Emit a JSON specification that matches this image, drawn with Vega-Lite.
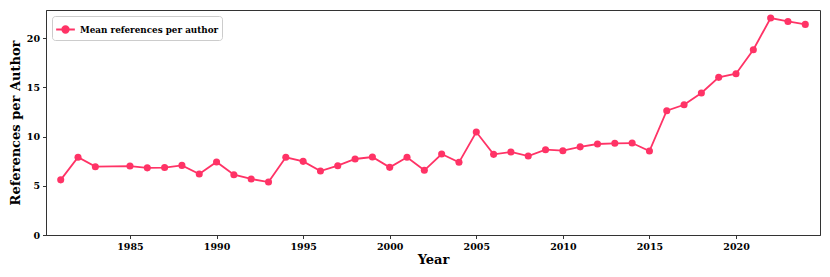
{
  "$schema": "https://vega.github.io/schema/vega-lite/v6.json",
  "width": 774,
  "height": 225,
  "autosize": "none",
  "padding": {"left": 46, "top": 10, "right": 10, "bottom": 42},
  "config": {
    "view": {"stroke": "#333333", "strokeWidth": 1},
    "font": "DejaVu Serif",
    "axis": {
      "labelFont": "DejaVu Serif", "labelFontWeight": "bold", "labelFontSize": 9.5, "labelColor": "#000",
      "titleFont": "DejaVu Serif", "titleFontWeight": "bold", "titleFontSize": 13, "titleColor": "#000",
      "domainColor": "#333333", "tickColor": "#333333", "tickSize": 3.5, "grid": false
    }
  },
  "data": {"values": [
    {"year": 1981, "value": 5.6, "series": "Mean references per author"},
    {"year": 1982, "value": 7.9, "series": "Mean references per author"},
    {"year": 1983, "value": 6.94, "series": "Mean references per author"},
    {"year": 1985, "value": 7.0, "series": "Mean references per author"},
    {"year": 1986, "value": 6.82, "series": "Mean references per author"},
    {"year": 1987, "value": 6.85, "series": "Mean references per author"},
    {"year": 1988, "value": 7.07, "series": "Mean references per author"},
    {"year": 1989, "value": 6.19, "series": "Mean references per author"},
    {"year": 1990, "value": 7.42, "series": "Mean references per author"},
    {"year": 1991, "value": 6.12, "series": "Mean references per author"},
    {"year": 1992, "value": 5.69, "series": "Mean references per author"},
    {"year": 1993, "value": 5.38, "series": "Mean references per author"},
    {"year": 1994, "value": 7.89, "series": "Mean references per author"},
    {"year": 1995, "value": 7.48, "series": "Mean references per author"},
    {"year": 1996, "value": 6.5, "series": "Mean references per author"},
    {"year": 1997, "value": 7.04, "series": "Mean references per author"},
    {"year": 1998, "value": 7.72, "series": "Mean references per author"},
    {"year": 1999, "value": 7.92, "series": "Mean references per author"},
    {"year": 2000, "value": 6.87, "series": "Mean references per author"},
    {"year": 2001, "value": 7.89, "series": "Mean references per author"},
    {"year": 2002, "value": 6.57, "series": "Mean references per author"},
    {"year": 2003, "value": 8.22, "series": "Mean references per author"},
    {"year": 2004, "value": 7.38, "series": "Mean references per author"},
    {"year": 2005, "value": 10.46, "series": "Mean references per author"},
    {"year": 2006, "value": 8.19, "series": "Mean references per author"},
    {"year": 2007, "value": 8.43, "series": "Mean references per author"},
    {"year": 2008, "value": 8.02, "series": "Mean references per author"},
    {"year": 2009, "value": 8.66, "series": "Mean references per author"},
    {"year": 2010, "value": 8.56, "series": "Mean references per author"},
    {"year": 2011, "value": 8.95, "series": "Mean references per author"},
    {"year": 2012, "value": 9.24, "series": "Mean references per author"},
    {"year": 2013, "value": 9.31, "series": "Mean references per author"},
    {"year": 2014, "value": 9.34, "series": "Mean references per author"},
    {"year": 2015, "value": 8.53, "series": "Mean references per author"},
    {"year": 2016, "value": 12.62, "series": "Mean references per author"},
    {"year": 2017, "value": 13.23, "series": "Mean references per author"},
    {"year": 2018, "value": 14.42, "series": "Mean references per author"},
    {"year": 2019, "value": 16.01, "series": "Mean references per author"},
    {"year": 2020, "value": 16.38, "series": "Mean references per author"},
    {"year": 2021, "value": 18.82, "series": "Mean references per author"},
    {"year": 2022, "value": 22.03, "series": "Mean references per author"},
    {"year": 2023, "value": 21.69, "series": "Mean references per author"},
    {"year": 2024, "value": 21.39, "series": "Mean references per author"}
  ]},
  "encoding": {
    "x": {"field": "year", "type": "quantitative",
      "scale": {"domain": [1980.15, 2024.85], "nice": false, "zero": false},
      "axis": {"title": "Year", "values": [1985, 1990, 1995, 2000, 2005, 2010, 2015, 2020], "format": "d", "labelPadding": 3, "titlePadding": 2}},
    "y": {"field": "value", "type": "quantitative",
      "scale": {"domain": [0, 22.85], "nice": false},
      "axis": {"title": "References per Author", "values": [0, 5, 10, 15, 20], "labelPadding": 3, "titlePadding": 4}}
  },
  "layer": [
    {
      "mark": {"type": "line", "strokeWidth": 1.8},
      "encoding": {
        "color": {"field": "series", "type": "nominal",
          "scale": {"range": ["#ff3366"]},
          "legend": {
            "title": null, "orient": "top-left", "offset": 6,
            "labelFont": "DejaVu Serif", "labelFontWeight": "bold", "labelFontSize": 8.8, "labelColor": "#000",
            "symbolType": "M-1,0L1,0M-0.35,0A0.35,0.35 0 1,0 0.35,0A0.35,0.35 0 1,0 -0.35,0Z",
            "symbolSize": 350, "symbolStrokeWidth": 1.8, "symbolFillColor": "#ff3366", "symbolStrokeColor": "#ff3366",
            "fillColor": "white", "strokeColor": "#cccccc", "cornerRadius": 3, "padding": 3
          }
        }
      }
    },
    {
      "mark": {"type": "circle", "size": 50, "opacity": 1, "color": "#ff3366"}
    }
  ]
}
